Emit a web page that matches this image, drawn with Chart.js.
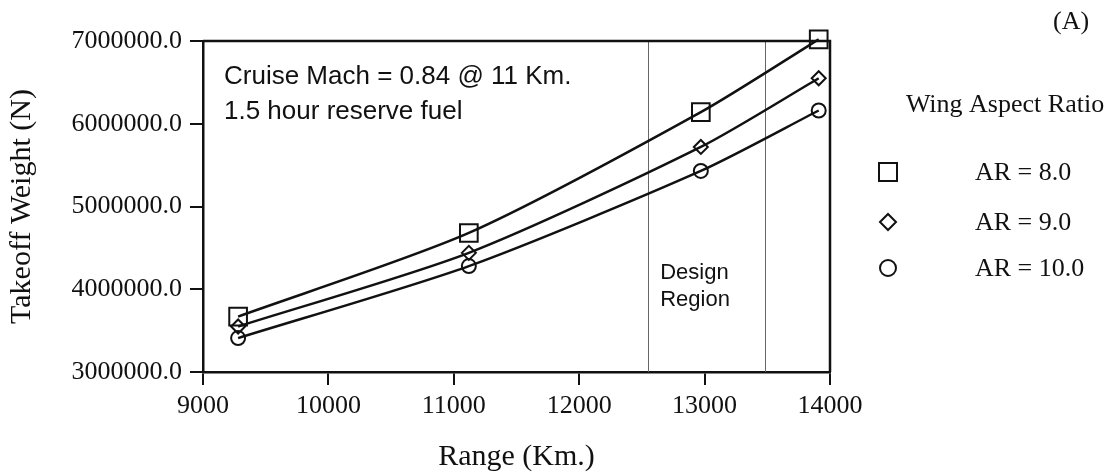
<!DOCTYPE html>
<html lang="en">
<head>
    <meta charset="UTF-8">
    <title>Takeoff Weight vs Range</title>
    <script src="https://cdnjs.cloudflare.com/ajax/libs/Chart.js/4.4.0/chart.umd.min.js"></script>
    <style>
        html, body { margin: 0; padding: 0; background: #fff; }
        #chart-container { width: 1117px; height: 475px; }
    </style>
</head>
<body>
<div id="chart-container">
    <canvas id="chart"></canvas>
</div>
<script type="text/javascript">
    // values
    const ranges = [9280, 11120, 12970, 13910];
    const weightAR8 = [3670000, 4680000, 6140000, 7020000];
    const weightAR9 = [3550000, 4440000, 5720000, 6550000];
    const weightAR10 = [3410000, 4280000, 5430000, 6160000];
    const seriesLabels = ['AR = 8.0', 'AR = 9.0', 'AR = 10.0'];
    const designRegion = [12550, 13480];
    const noteLines = ['Cruise Mach = 0.84 @ 11 Km.', '1.5 hour reserve fuel'];

    const serif = '"Liberation Serif", "Times New Roman", serif';
    const sans = '"Liberation Sans", Arial, sans-serif';
    const ink = '#111';

    function toPoints(ys) {
        return ranges.map((x, i) => ({x: x, y: ys[i]}));
    }

    const styles = [
        {pointStyle: 'rect', radius: 12.5},
        {pointStyle: 'rectRot', radius: 7},
        {pointStyle: 'circle', radius: 7}
    ];

    const data = {
        datasets: [weightAR8, weightAR9, weightAR10].map((ys, i) => ({
            label: seriesLabels[i],
            data: toPoints(ys),
            borderColor: ink,
            borderWidth: 2.5,
            backgroundColor: 'rgba(0,0,0,0)',
            pointStyle: styles[i].pointStyle,
            pointRadius: styles[i].radius,
            pointBorderWidth: 2,
            pointBorderColor: ink,
            pointBackgroundColor: 'rgba(0,0,0,0)',
            tension: 0.25,
            clip: false
        }))
    };

    const decorations = {
        id: 'decorations',
        beforeDatasetsDraw: (chart) => {
            const {ctx, chartArea, scales} = chart;
            ctx.save();
            // design region boundaries
            ctx.strokeStyle = '#666';
            ctx.lineWidth = 1;
            designRegion.forEach(v => {
                const px = Math.round(scales.x.getPixelForValue(v)) + 0.5;
                ctx.beginPath();
                ctx.moveTo(px, chartArea.top);
                ctx.lineTo(px, chartArea.bottom);
                ctx.stroke();
            });
            ctx.fillStyle = ink;
            ctx.textAlign = 'left';
            ctx.textBaseline = 'alphabetic';
            ctx.font = '22px ' + sans;
            const dx = scales.x.getPixelForValue(designRegion[0]) + 12;
            ctx.fillText('Design', dx, chartArea.bottom - 93);
            ctx.fillText('Region', dx, chartArea.bottom - 66);
            ctx.font = '26px ' + sans;
            ctx.fillText(noteLines[0], chartArea.left + 21, chartArea.top + 43);
            ctx.fillText(noteLines[1], chartArea.left + 21, chartArea.top + 78);
            ctx.restore();
        },
        afterDraw: (chart) => {
            const {ctx, chartArea} = chart;
            ctx.save();
            // top and right frame
            ctx.strokeStyle = ink;
            ctx.lineWidth = 2.5;
            ctx.beginPath();
            ctx.moveTo(chartArea.left, chartArea.top);
            ctx.lineTo(chartArea.right, chartArea.top);
            ctx.lineTo(chartArea.right, chartArea.bottom);
            ctx.stroke();

            // legend
            ctx.fillStyle = ink;
            ctx.font = '26px ' + serif;
            ctx.textAlign = 'center';
            ctx.textBaseline = 'alphabetic';
            ctx.fillText('Wing Aspect Ratio', 1005, 112);
            const rows = [172, 222, 268];
            ctx.lineWidth = 2;
            rows.forEach((y, i) => {
                const x = 888;
                ctx.beginPath();
                if (i === 0) {
                    ctx.rect(x - 9, y - 9, 18, 18);
                } else if (i === 1) {
                    ctx.moveTo(x - 8, y);
                    ctx.lineTo(x, y - 8);
                    ctx.lineTo(x + 8, y);
                    ctx.lineTo(x, y + 8);
                    ctx.closePath();
                } else {
                    ctx.arc(x, y, 8, 0, Math.PI * 2);
                }
                ctx.stroke();
                ctx.textAlign = 'left';
                ctx.textBaseline = 'middle';
                ctx.fillText(seriesLabels[i], 975, y + 1);
            });
            ctx.textAlign = 'left';
            ctx.textBaseline = 'middle';
            ctx.fillText('(A)', 1053, 22);
            ctx.restore();
        }
    };

    const config = {
        type: 'line',
        data: data,
        options: {
            responsive: false,
            animation: false,
            layout: {padding: {top: 41, right: 287, left: 0, bottom: 0}},
            plugins: {
                legend: {display: false},
                tooltip: {enabled: false}
            },
            scales: {
                x: {
                    type: 'linear',
                    min: 9000,
                    max: 14000,
                    ticks: {
                        stepSize: 1000,
                        color: ink,
                        font: {family: serif, size: 26},
                        padding: 6,
                        maxRotation: 0,
                        callback: (v) => String(v)
                    },
                    grid: {display: true, drawOnChartArea: false, drawTicks: true, tickLength: 13, color: ink, lineWidth: 2},
                    border: {display: true, color: ink, width: 2.5},
                    title: {
                        display: true,
                        text: 'Range (Km.)',
                        color: ink,
                        font: {family: serif, size: 30},
                        padding: {top: 0, bottom: 0}
                    },
                    afterFit: (s) => { s.height = 103; }
                },
                y: {
                    min: 3000000,
                    max: 7000000,
                    ticks: {
                        stepSize: 1000000,
                        color: ink,
                        font: {family: serif, size: 26},
                        padding: 8,
                        callback: (v) => v.toFixed(1)
                    },
                    grid: {display: true, drawOnChartArea: false, drawTicks: true, tickLength: 13, color: ink, lineWidth: 2},
                    border: {display: true, color: ink, width: 2.5},
                    title: {
                        display: true,
                        text: 'Takeoff Weight (N)',
                        color: ink,
                        font: {family: serif, size: 30},
                        padding: {top: 4, bottom: 0}
                    },
                    afterFit: (s) => { s.width = 203; }
                }
            }
        },
        plugins: [decorations]
    };

    const canvas = document.getElementById('chart');
    canvas.width = 1117;
    canvas.height = 475;
    const chart = new Chart(canvas, config);
</script>
</body>
</html>
